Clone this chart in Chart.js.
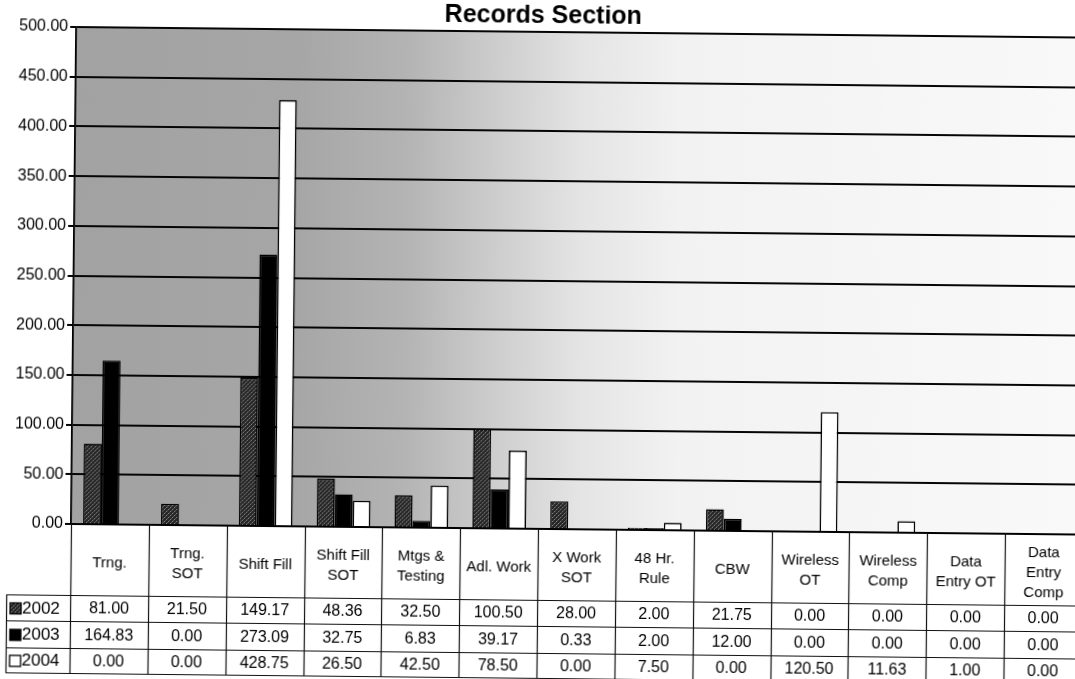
<!DOCTYPE html>
<html>
<head>
<meta charset="utf-8">
<title>Records Section</title>
<script src="https://cdn.jsdelivr.net/npm/chart.js@4.4.1/dist/chart.umd.min.js"></script>
<style>
  html, body { margin: 0; padding: 0; background: #fff; overflow: hidden; }
  #wrap { position: relative; width: 1075px; height: 679px; overflow: hidden; background: #fff; }
  #c { position: absolute; left: 0; top: 0; width: 1100px; height: 690px;
       transform-origin: 72px 524px; transform: rotate(0.6deg); }
</style>
</head>
<body>
<div id="wrap"><canvas id="c" width="1100" height="690"></canvas></div>
<script>
// Overtime hours by category, one array per year
const chartTitle = 'Records Section';
const categories = [
  ['Trng.'], ['Trng.', 'SOT'], ['Shift Fill'], ['Shift Fill', 'SOT'], ['Mtgs &', 'Testing'],
  ['Adl. Work'], ['X Work', 'SOT'], ['48 Hr.', 'Rule'], ['CBW'], ['Wireless', 'OT'],
  ['Wireless', 'Comp'], ['Data', 'Entry OT'], ['Data', 'Entry', 'Comp']
];
const years = ['2002', '2003', '2004'];
const values2002 = [81.00, 21.50, 149.17, 48.36, 32.50, 100.50, 28.00, 2.00, 21.75, 0.00, 0.00, 0.00, 0.00];
const values2003 = [164.83, 0.00, 273.09, 32.75, 6.83, 39.17, 0.33, 2.00, 12.00, 0.00, 0.00, 0.00, 0.00];
const values2004 = [0.00, 0.00, 428.75, 26.50, 42.50, 78.50, 0.00, 7.50, 0.00, 120.50, 11.63, 1.00, 0.00];
const yMin = 0, yMax = 500, yStep = 50;

const seriesValues = [values2002, values2003, values2004];
const FONT = "'Liberation Sans', Arial, Helvetica, sans-serif";

// Speckled dark fill used for the 2002 series
function speckle() {
  const c = document.createElement('canvas');
  c.width = 4; c.height = 4;
  const g = c.getContext('2d');
  g.fillStyle = '#262626';
  g.fillRect(0, 0, 4, 4);
  g.fillStyle = '#8a8a8a';
  g.fillRect(0, 0, 1, 1);
  g.fillRect(2, 2, 1, 1);
  g.fillStyle = '#5a5a5a';
  g.fillRect(3, 1, 1, 1);
  g.fillRect(1, 3, 1, 1);
  return g.createPattern(c, 'repeat');
}
const seriesFill = [speckle(), '#000000', '#ffffff'];

// Shaded plot background, gray on the left fading to white
const plotBackground = {
  id: 'plotBackground',
  beforeDraw(chart) {
    const { ctx, chartArea: a } = chart;
    const g = ctx.createLinearGradient(a.left, 0, a.right, 0);
    g.addColorStop(0.00, '#a2a2a2');
    g.addColorStop(0.22, '#a6a6a6');
    g.addColorStop(0.33, '#b4b4b4');
    g.addColorStop(0.42, '#cecece');
    g.addColorStop(0.50, '#e4e4e4');
    g.addColorStop(0.60, '#f2f2f2');
    g.addColorStop(1.00, '#f9f9f9');
    ctx.save();
    ctx.fillStyle = g;
    ctx.fillRect(a.left, a.top, a.right - a.left, a.bottom - a.top);
    ctx.restore();
  }
};

// Title above the plot
const titleText = {
  id: 'titleText',
  afterDraw(chart) {
    const { ctx } = chart;
    ctx.save();
    ctx.font = 'bold 25px ' + FONT;
    ctx.fillStyle = '#000';
    ctx.textAlign = 'center';
    ctx.textBaseline = 'alphabetic';
    ctx.fillText(chartTitle, 538, 18);
    ctx.restore();
  }
};

// Data table under the x axis, with legend keys in the first column
const dataTable = {
  id: 'dataTable',
  afterDraw(chart) {
    const { ctx, chartArea: a, scales: { x } } = chart;
    const n = categories.length;
    const cw = (a.right - a.left) / n;
    const top = a.bottom;
    const headerBottom = 595;
    const rowLines = [headerBottom, 621, 648, 673];
    const bottom = rowLines[rowLines.length - 1];
    const legendLeft = 7;

    ctx.save();
    ctx.strokeStyle = '#111';
    ctx.lineWidth = 1.2;

    // horizontal rules
    rowLines.forEach(y => {
      ctx.beginPath();
      ctx.moveTo(legendLeft, y + 0.5);
      ctx.lineTo(a.right, y + 0.5);
      ctx.stroke();
    });
    // vertical rules between categories
    for (let i = 0; i <= n; i++) {
      const xx = Math.round(a.left + i * cw) + 0.5;
      ctx.beginPath();
      ctx.moveTo(xx, top);
      ctx.lineTo(xx, bottom);
      ctx.stroke();
    }
    ctx.beginPath();
    ctx.moveTo(legendLeft + 0.5, headerBottom);
    ctx.lineTo(legendLeft + 0.5, bottom);
    ctx.stroke();

    ctx.fillStyle = '#000';
    ctx.textAlign = 'center';
    ctx.textBaseline = 'middle';

    // category headers
    ctx.font = '15px ' + FONT;
    const lh = 20;
    categories.forEach((lines, i) => {
      const cx = x.getPixelForValue(i);
      const cy = 563;
      const y0 = cy - (lines.length - 1) * lh / 2;
      lines.forEach((t, k) => ctx.fillText(t, cx, y0 + k * lh));
    });

    // value rows
    ctx.font = '16px ' + FONT;
    seriesValues.forEach((vals, r) => {
      const cy = (rowLines[r] + rowLines[r + 1]) / 2 + 1;
      vals.forEach((v, i) => ctx.fillText(v.toFixed(2), x.getPixelForValue(i), cy));
    });

    // legend keys + year labels
    years.forEach((yr, r) => {
      const cy = (rowLines[r] + rowLines[r + 1]) / 2 + 1;
      ctx.fillStyle = seriesFill[r];
      ctx.fillRect(11, cy - 5.5, 11, 11);
      ctx.strokeStyle = '#000';
      ctx.lineWidth = 1.3;
      ctx.strokeRect(11, cy - 5.5, 11, 11);
      ctx.fillStyle = '#000';
      ctx.textAlign = 'left';
      ctx.font = '17px ' + FONT;
      ctx.fillText(yr, 23, cy);
    });
    ctx.restore();
  }
};

new Chart(document.getElementById('c'), {
  type: 'bar',
  data: {
    labels: categories.map(c => c.join(' ')),
    datasets: years.map((yr, r) => ({
      label: yr,
      data: seriesValues[r],
      backgroundColor: seriesFill[r],
      borderColor: '#000',
      borderWidth: 1.6,
      categoryPercentage: 0.69,
      barPercentage: 1.0
    }))
  },
  options: {
    responsive: false,
    devicePixelRatio: 1,
    animation: false,
    layout: { padding: { left: 0, right: 17, top: 27, bottom: 0 } },
    plugins: {
      legend: { display: false },
      title: { display: false },
      tooltip: { enabled: false }
    },
    scales: {
      x: {
        ticks: { display: false },
        grid: { display: false },
        border: { display: true, color: '#000', width: 2 },
        afterFit(scale) { scale.height = 166; }
      },
      y: {
        min: yMin,
        max: yMax,
        ticks: {
          stepSize: yStep,
          color: '#000',
          padding: 2,
          font: { family: FONT, size: 16 },
          callback: v => Number(v).toFixed(2)
        },
        grid: { color: '#050505', lineWidth: 2, tickLength: 6, drawTicks: true },
        border: { display: true, color: '#000', width: 1.8 },
        afterFit(scale) { scale.width = 71; }
      }
    }
  },
  plugins: [plotBackground, dataTable, titleText]
});
</script>
</body>
</html>
